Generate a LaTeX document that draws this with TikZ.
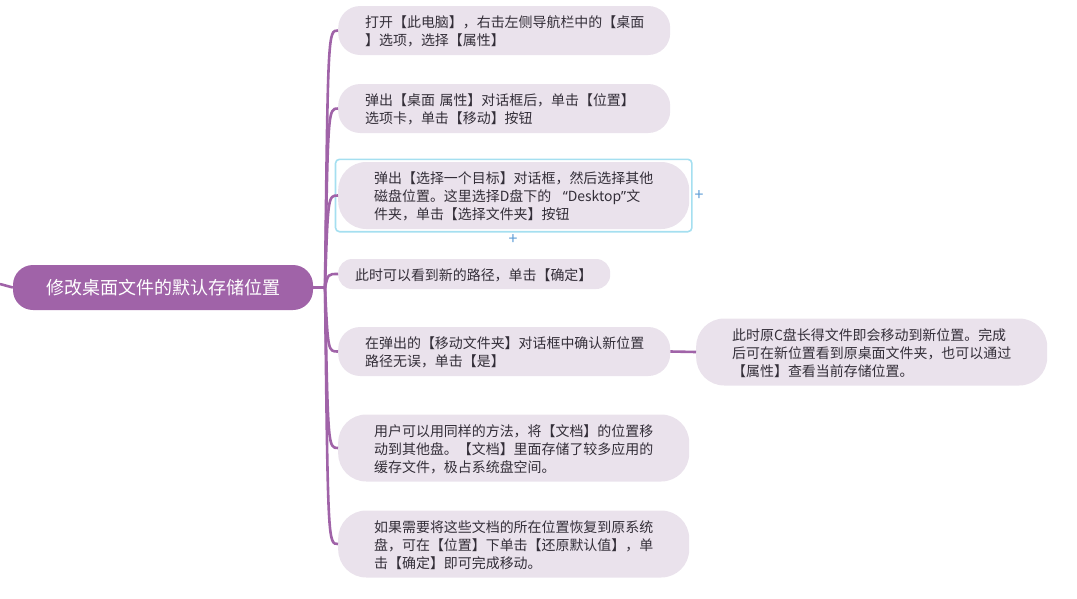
\documentclass[tikz,border=0pt]{standalone}
\usepackage{fontspec}
\setmainfont{Noto Sans CJK SC}
\newfontfamily\quotefont{Noto Sans}
\usetikzlibrary{fit}
\definecolor{rootcolor}{HTML}{A063A8}
\definecolor{stepcolor}{HTML}{EAE2EC}
\definecolor{textcolor}{HTML}{332E38}
\definecolor{selectcolor}{HTML}{A5DFF0}
\definecolor{pluscolor}{HTML}{5B9BD5}
\tikzset{
  stepbox/.style={fill=stepcolor,text=textcolor,anchor=west,align=left,inner ysep=0pt,
    font=\fontsize{13.95}{18}\selectfont,execute at begin node=\rule{0pt}{14pt}},
  twolines/.style={stepbox,rounded corners=22pt,minimum height=49pt,inner xsep=27pt,text width=278pt},
  threelines/.style={stepbox,rounded corners=28pt,minimum height=67pt,inner xsep=36pt,text width=279pt},
  branch/.style={draw=rootcolor,line width=2.6pt},
  plusmark/.style={text=pluscolor,inner sep=0pt,font=\fontsize{16}{16}\selectfont},
}
\begin{document}
\begin{tikzpicture}[x=1pt,y=-1pt]
\useasboundingbox (0,0) rectangle (1077,598);

% Central topic
\node[fill=rootcolor,text=white,rounded corners=20pt,minimum width=300pt,minimum height=45pt,inner sep=0pt,
  font=\fontsize{18}{22}\selectfont] (root) at (163,287.5) {修改桌面文件的默认存储位置};
\coordinate (stub) at (0,284);
\coordinate (trunk) at (325,287.5);
\coordinate (bend) at (328,287.5);

% Steps
\node[twolines] (n1) at (338,30.5) {打开【此电脑】，右击左侧导航栏中的【桌面\\】选项，选择【属性】};
\node[twolines] (n2) at (338,108.5) {弹出【桌面 属性】对话框后，单击【位置】\\选项卡，单击【移动】按钮};
\node[threelines] (n3) at (338,195.5) {弹出【选择一个目标】对话框，然后选择其他\\磁盘位置。这里选择D盘下的\hspace{7pt} {\quotefont “}Desktop{\quotefont ”}文\\件夹，单击【选择文件夹】按钮};
\node[stepbox,rounded corners=14pt,minimum height=30pt,inner xsep=17pt,text width=238pt] (n4) at (338,274) {此时可以看到新的路径，单击【确定】};
\node[twolines] (n5) at (338,351.5) {在弹出的【移动文件夹】对话框中确认新位置\\路径无误，单击【是】};
\node[threelines] (n6) at (338,448) {用户可以用同样的方法，将【文档】的位置移\\动到其他盘。【文档】里面存储了较多应用的\\缓存文件，极占系统盘空间。};
\node[threelines] (n7) at (338,544) {如果需要将这些文档的所在位置恢复到原系统\\盘，可在【位置】下单击【还原默认值】，单\\击【确定】即可完成移动。};
\node[threelines] (n8) at (696,352) {此时原C盘长得文件即会移动到新位置。完成\\后可在新位置看到原桌面文件夹，也可以通过\\【属性】查看当前存储位置。};

% Selection frame
\node[draw=selectcolor,line width=1.6pt,rounded corners=4pt,inner sep=2.5pt,fit=(n3)] (frame) {};
\node[plusmark] (plusright) at (699,195.5) {+};
\node[plusmark] (plusbelow) at (513,240) {+};

% Connectors
\draw[branch] (stub) .. controls (6,286) .. (root.west);
\draw[branch] (root.east) -- (trunk);
\foreach \n in {n1,n2,n3,n4,n5,n6,n7}
\draw[branch] (trunk) .. controls (bend |- \n.west) .. (\n.west);
\draw[branch] (n5.east) -- (n8.west);
\end{tikzpicture}
\end{document}
